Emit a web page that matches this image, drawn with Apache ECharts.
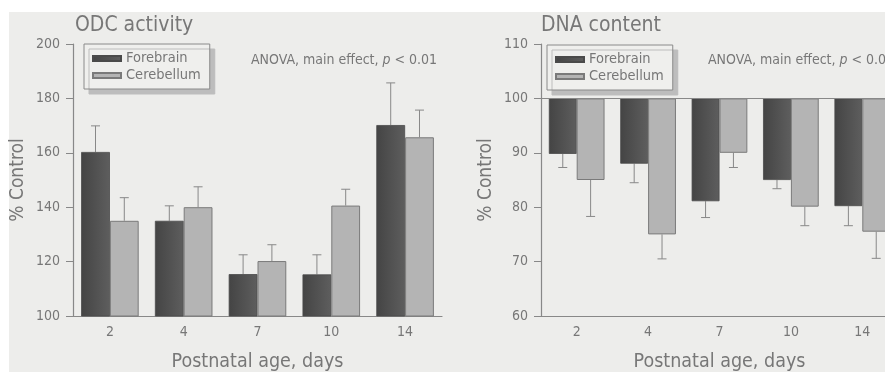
<!DOCTYPE html>
<html>
<head>
<meta charset="utf-8">
<script src="https://cdn.jsdelivr.net/npm/echarts@6/dist/echarts.min.js"></script>
<style>
html,body{margin:0;padding:0;background:#fff;overflow:hidden;width:885px;height:372px;}
#bg{position:absolute;left:9px;top:12px;width:876px;height:360px;background:#ededeb;}
#chart{position:absolute;left:0;top:0;width:885px;height:372px;}
</style>
</head>
<body>
<div id="bg"></div>
<div id="chart"></div>
<script>
// ---- data ----
const categories = ['2', '4', '7', '10', '14'];
// ODC activity (% control)
const odcForebrain = [160.3, 135, 115.4, 115.3, 170.2];
const odcForebrainErr = [9.6, 5.5, 7.1, 7.2, 15.5];
const odcCerebellum = [135, 140, 120.2, 140.6, 165.7];
const odcCerebellumErr = [8.5, 7.5, 6, 6, 10];
// DNA content (% control)
const dnaForebrain = [89.8, 88, 81.1, 85, 80.2];
const dnaForebrainErr = [2.5, 3.5, 3, 1.6, 3.6];
const dnaCerebellum = [85, 75, 90, 80.1, 75.5];
const dnaCerebellumErr = [6.7, 4.5, 2.7, 3.5, 4.9];
const odcTicks = {min: 100, max: 200, interval: 20};
const dnaTicks = {min: 60, max: 110, interval: 10};
const dnaBase = 100;

// ---- style ----
const FF = "'Liberation Sans Narrow','Arial Narrow','DejaVu Sans Condensed',sans-serif";
const TXT = '#777';
const AX = '#888';
const GAP = 0.22;
const darkFill = new echarts.graphic.LinearGradient(0, 0, 1, 0, [
  {offset: 0, color: '#444'}, {offset: 1, color: '#5e5e5e'}]);
const lightFill = '#b4b4b4';

function errRender(side, dir) {
  return function (params, api) {
    const idx = api.value(0);
    const v = api.value(1);
    const e = api.value(2);
    const band = api.size([1, 0])[0];
    const bw = band * (1 - GAP) / 2;
    const c = api.coord([idx, v]);
    const x = c[0] + side * bw / 2;
    const p2 = api.coord([idx, v + dir * e]);
    const y1 = c[1], y2 = p2[1];
    const cap = 4.5;
    return {
      type: 'group',
      children: [
        {type: 'line', shape: {x1: x, y1: y1, x2: x, y2: y2}, style: {stroke: AX, lineWidth: 1}},
        {type: 'line', shape: {x1: x - cap, y1: y2, x2: x + cap, y2: y2}, style: {stroke: AX, lineWidth: 1}}
      ]
    };
  };
}
function errData(vals, errs) {
  return vals.map((v, i) => [i, v, errs[i]]);
}

const xAxisBase = {
  type: 'category', data: categories,
  axisTick: {show: false},
  axisLine: {lineStyle: {color: AX, width: 1.2}},
  axisLabel: {color: TXT, fontFamily: FF, fontSize: 14, margin: 9},
  name: 'Postnatal age, days', nameLocation: 'middle', nameGap: 36,
  nameTextStyle: {color: TXT, fontFamily: FF, fontSize: 19.5}
};
function yAxisBase(t) {
  return {
    type: 'value', min: t.min, max: t.max, interval: t.interval,
    splitLine: {show: false},
    axisLine: {show: true, lineStyle: {color: AX, width: 1.2}},
    axisTick: {show: true, length: 7, lineStyle: {color: AX}},
    axisLabel: {color: TXT, fontFamily: FF, fontSize: 14, margin: 13},
    name: '% Control', nameLocation: 'middle', nameGap: 45, nameRotate: 90,
    nameTextStyle: {color: TXT, fontFamily: FF, fontSize: 19}
  };
}
const legendBase = {
  orient: 'vertical', icon: 'rect', itemWidth: 28, itemHeight: 5, itemGap: 2,
  data: ['Forebrain', 'Cerebellum'],
  textStyle: {color: TXT, fontFamily: FF, fontSize: 14.5},
  padding: [7, 9, 6, 8],
  backgroundColor: '#efefed', borderColor: '#8a8a8a', borderWidth: 1,
  shadowColor: '#bdbdbd', shadowOffsetX: 5, shadowOffsetY: 5, shadowBlur: 0,
  selectedMode: false
};
const anovaRich = {
  a: {color: TXT, fontFamily: FF, fontSize: 14, fontWeight: 'normal'},
  i: {color: TXT, fontFamily: FF, fontSize: 14, fontWeight: 'normal', fontStyle: 'italic'}
};
const anovaText = '{a|ANOVA, main effect, }{i|p}{a| < 0.01}';
const titleStyle = {color: TXT, fontFamily: FF, fontSize: 21, fontWeight: 'normal'};

const chart = echarts.init(document.getElementById('chart'), null, {renderer: 'canvas'});
chart.setOption({
  backgroundColor: 'transparent',
  animation: false,
  title: [
    {text: 'ODC activity', left: 75, top: 15, padding: 0, textStyle: titleStyle},
    {text: 'DNA content', left: 541, top: 15, padding: 0, textStyle: titleStyle},
    {text: anovaText, left: 251, top: 53, padding: 0, textStyle: {rich: anovaRich}},
    {text: anovaText, left: 708, top: 53, padding: 0, textStyle: {rich: anovaRich}}
  ],
  legend: [
    Object.assign({left: 84, top: 44}, legendBase),
    Object.assign({left: 547, top: 45}, legendBase)
  ],
  grid: [
    {left: 73, top: 44, width: 369, height: 272, containLabel: false, outerBoundsMode: 'none'},
    {left: 541, top: 44, width: 357, height: 272, containLabel: false, outerBoundsMode: 'none'}
  ],
  xAxis: [
    Object.assign({gridIndex: 0}, xAxisBase),
    Object.assign({gridIndex: 1}, xAxisBase)
  ],
  yAxis: [
    Object.assign({gridIndex: 0}, yAxisBase(odcTicks)),
    Object.assign({gridIndex: 1}, yAxisBase(dnaTicks))
  ],
  series: [
    {name: 'Forebrain', type: 'bar', xAxisIndex: 0, yAxisIndex: 0, data: odcForebrain,
      barGap: 0, barCategoryGap: (GAP * 100) + '%',
      itemStyle: {color: darkFill, borderColor: '#4a4a4a', borderWidth: 0.8}},
    {name: 'Cerebellum', type: 'bar', xAxisIndex: 0, yAxisIndex: 0, data: odcCerebellum,
      barGap: 0, barCategoryGap: (GAP * 100) + '%',
      itemStyle: {color: lightFill, borderColor: '#7a7a7a', borderWidth: 1}},
    {type: 'custom', xAxisIndex: 0, yAxisIndex: 0, renderItem: errRender(-1, 1),
      data: errData(odcForebrain, odcForebrainErr), z: 1},
    {type: 'custom', xAxisIndex: 0, yAxisIndex: 0, renderItem: errRender(1, 1),
      data: errData(odcCerebellum, odcCerebellumErr), z: 1},

    {name: 'fbase', type: 'bar', stack: 'f', xAxisIndex: 1, yAxisIndex: 1, data: dnaForebrain,
      barGap: 0, barCategoryGap: (GAP * 100) + '%', itemStyle: {color: 'transparent'}, silent: true},
    {name: 'Forebrain', type: 'bar', stack: 'f', xAxisIndex: 1, yAxisIndex: 1,
      data: dnaForebrain.map(v => dnaBase - v),
      barGap: 0, barCategoryGap: (GAP * 100) + '%',
      itemStyle: {color: darkFill, borderColor: '#4a4a4a', borderWidth: 0.8},
      markLine: {symbol: 'none', silent: true, label: {show: false},
        lineStyle: {color: AX, type: 'solid', width: 1.2}, data: [{yAxis: dnaBase}]}},
    {name: 'cbase', type: 'bar', stack: 'c', xAxisIndex: 1, yAxisIndex: 1, data: dnaCerebellum,
      barGap: 0, barCategoryGap: (GAP * 100) + '%', itemStyle: {color: 'transparent'}, silent: true},
    {name: 'Cerebellum', type: 'bar', stack: 'c', xAxisIndex: 1, yAxisIndex: 1,
      data: dnaCerebellum.map(v => dnaBase - v),
      barGap: 0, barCategoryGap: (GAP * 100) + '%',
      itemStyle: {color: lightFill, borderColor: '#7a7a7a', borderWidth: 1}},
    {type: 'custom', xAxisIndex: 1, yAxisIndex: 1, renderItem: errRender(-1, -1),
      data: errData(dnaForebrain, dnaForebrainErr), z: 1},
    {type: 'custom', xAxisIndex: 1, yAxisIndex: 1, renderItem: errRender(1, -1),
      data: errData(dnaCerebellum, dnaCerebellumErr), z: 1}
  ]
});
</script>
</body>
</html>
